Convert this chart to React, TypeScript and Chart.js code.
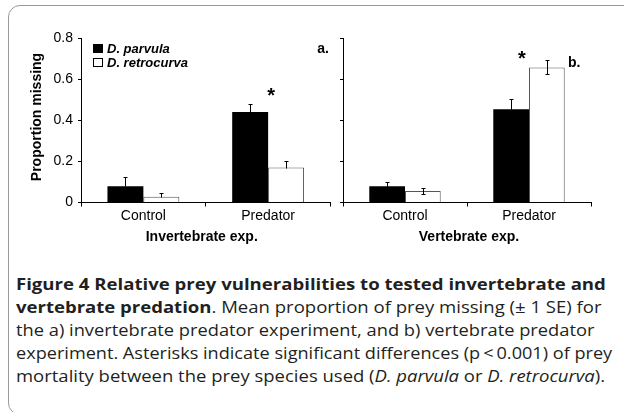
import React, { useEffect, useLayoutEffect, useRef } from 'react';
import { Chart, registerables } from 'chart.js';
Chart.register(...registerables);

// ---------- data ----------
const categories = ['Control', 'Predator'];
const seriesNames = ['D. parvula', 'D. retrocurva'];
const invParvula = [0.079, 0.44];
const invParvulaSE = [0.044, 0.038];
const invRetrocurva = [0.028, 0.17];
const invRetrocurvaSE = [0.017, 0.03];
const vertParvula = [0.079, 0.453];
const vertParvulaSE = [0.021, 0.052];
const vertRetrocurva = [0.056, 0.657];
const vertRetrocurvaSE = [0.016, 0.034];
const yTickValues = [0, 0.2, 0.4, 0.6, 0.8];
const yTickLabels = ['0', '0.2', '0.4', '0.6', '0.8'];
const panelTitles = ['Invertebrate exp.', 'Vertebrate exp.'];
const panelLetters = ['a.', 'b.'];
const yTitle = 'Proportion missing';
const asteriskCategory = [1, 1];
const asteriskValue = [0.542, 0.722];

const captionLines = [
  [{ t: 'Figure 4 Relative prey vulnerabilities to tested invertebrate and', b: true }],
  [{ t: 'vertebrate predation', b: true }, { t: '. Mean proportion of prey missing (\u00b1 1 SE) for' }],
  [{ t: 'the a) invertebrate predator experiment, and b) vertebrate predator' }],
  [{ t: 'experiment. Asterisks indicate significant differences (p\u2009<\u20090.001) of prey' }],
  [
    { t: 'mortality between the prey species used (' },
    { t: 'D. parvula', i: true },
    { t: ' or ' },
    { t: 'D. retrocurva', i: true },
    { t: ').' },
  ],
];
const captionWidths = [590, 586, 579, 596, 589];

const FONT = "'Liberation Sans', Arial, sans-serif";

const decorPlugin = {
  id: 'panelDecor',
  afterDatasetsDraw(chart: any, _args: any, opts: any) {
    const ctx = chart.ctx;
    const ys = chart.scales.y;
    ctx.save();
    ctx.strokeStyle = '#000';
    ctx.lineWidth = 1;
    (opts.errors || []).forEach((errs: number[], di: number) => {
      const meta = chart.getDatasetMeta(di);
      meta.data.forEach((bar: any, j: number) => {
        const v = chart.data.datasets[di].data[j];
        const e = errs[j];
        const x = Math.round(bar.x) + 0.5;
        const yTop = Math.round(ys.getPixelForValue(v + e)) + 0.5;
        const yBot = Math.round(ys.getPixelForValue(opts.both ? v - e : v)) + 0.5;
        ctx.beginPath();
        ctx.moveTo(x, yTop);
        ctx.lineTo(x, yBot);
        ctx.moveTo(x - 2, yTop);
        ctx.lineTo(x + 2, yTop);
        if (opts.both) {
          ctx.moveTo(x - 2, yBot);
          ctx.lineTo(x + 2, yBot);
        }
        ctx.stroke();
      });
    });
    ctx.restore();
  },
  afterDraw(chart: any, _args: any, opts: any) {
    const ctx = chart.ctx;
    const ca = chart.chartArea;
    const xs = chart.scales.x;
    const ys = chart.scales.y;
    ctx.save();
    ctx.fillStyle = '#000';
    // x title
    ctx.font = `bold 14px ${FONT}`;
    ctx.textAlign = 'center';
    ctx.textBaseline = 'alphabetic';
    ctx.fillText(opts.title, (ca.left + ca.right) / 2 + opts.titleDx, ca.bottom + 38);
    // panel letter
    ctx.textAlign = opts.letterAlign;
    ctx.textBaseline = 'middle';
    ctx.fillText(opts.letter, ca.left + opts.letterX, ca.top + opts.letterY);
    // asterisk
    ctx.font = `bold 20px ${FONT}`;
    ctx.textAlign = 'center';
    ctx.textBaseline = 'alphabetic';
    const ax = xs.getPixelForValue(opts.astCat) + opts.astDx;
    const ay = ys.getPixelForValue(opts.astVal);
    ctx.fillText('*', ax, ay + 0.555 * 20);
    // y title
    if (opts.yTitle) {
      ctx.save();
      ctx.translate(37, 117);
      ctx.rotate(-Math.PI / 2);
      ctx.font = `bold 14px ${FONT}`;
      ctx.textAlign = 'center';
      ctx.textBaseline = 'middle';
      ctx.fillText(opts.yTitle, 0, 0);
      ctx.restore();
    }
    // legend
    if (opts.legend) {
      chart.data.datasets.forEach((ds: any, i: number) => {
        const lx = ca.left + 12;
        const ly = ca.top + 6 + i * 14;
        ctx.fillStyle = ds.backgroundColor;
        ctx.fillRect(lx, ly, 10, 9);
        ctx.strokeStyle = '#000';
        ctx.lineWidth = 1;
        ctx.strokeRect(lx + 0.5, ly + 0.5, 9, 8);
        ctx.fillStyle = '#000';
        ctx.font = `italic bold 13px ${FONT}`;
        ctx.textAlign = 'left';
        ctx.textBaseline = 'middle';
        ctx.fillText(ds.label, lx + 14, ly + 5);
      });
    }
    ctx.restore();
  },
};

function makeChart(canvas: HTMLCanvasElement, p: any) {
  return new Chart(canvas, {
    type: 'bar',
    data: {
      labels: categories,
      datasets: [
        {
          label: seriesNames[0],
          data: p.a,
          backgroundColor: '#000',
          borderColor: '#000',
          borderWidth: 0,
          categoryPercentage: 0.576,
          barPercentage: 1,
        },
        {
          label: seriesNames[1],
          data: p.b,
          backgroundColor: '#fff',
          borderColor: '#555',
          borderWidth: 1,
          borderSkipped: 'bottom',
          categoryPercentage: 0.576,
          barPercentage: 1,
        },
      ],
    },
    options: {
      animation: false,
      responsive: false,
      maintainAspectRatio: false,
      events: [],
      layout: { padding: { top: 38, right: p.padRight, left: 0, bottom: 0 } },
      plugins: {
        legend: { display: false },
        tooltip: { enabled: false },
        panelDecor: p.decor,
      } as any,
      scales: {
        x: {
          type: 'category',
          offset: true,
          grid: {
            display: true,
            offset: true,
            drawOnChartArea: false,
            drawTicks: true,
            tickLength: 4,
            color: '#000',
            lineWidth: 1,
          },
          border: { display: true, color: '#000', width: 1 },
          ticks: { color: '#000', font: { family: FONT, size: 14 }, padding: 1, maxRotation: 0, autoSkip: false },
          afterFit: (s: any) => {
            s.height = 47.5;
          },
        },
        y: {
          min: 0,
          max: 0.8,
          afterBuildTicks: (s: any) => {
            s.ticks = yTickValues.map((v) => ({ value: v }));
          },
          ticks: {
            display: p.showY,
            color: '#000',
            font: { family: FONT, size: 14 },
            padding: 5,
            callback: (_v: any, i: number) => yTickLabels[i],
          },
          grid: { drawOnChartArea: false, drawTicks: true, tickLength: 3, color: '#000' },
          border: { display: true, color: '#000', width: 1 },
          afterFit: (s: any) => {
            s.width = p.yWidth;
          },
        },
      },
    } as any,
    plugins: [decorPlugin as any],
  });
}

export default function App() {
  const c1 = useRef<HTMLCanvasElement>(null);
  const c2 = useRef<HTMLCanvasElement>(null);
  const lineRefs = useRef<(HTMLSpanElement | null)[]>([]);

  useEffect(() => {
    const ch1 = makeChart(c1.current!, {
      a: invParvula,
      b: invRetrocurva,
      padRight: 9.5,
      yWidth: 81,
      showY: true,
      decor: {
        errors: [invParvulaSE, invRetrocurvaSE],
        both: false,
        title: panelTitles[0],
        titleDx: -4,
        letter: panelLetters[0],
        letterAlign: 'right',
        letterX: 248,
        letterY: 11,
        astCat: asteriskCategory[0],
        astVal: asteriskValue[0],
        astDx: 3,
        yTitle: yTitle,
        legend: true,
      },
    });
    const ch2 = makeChart(c2.current!, {
      a: vertParvula,
      b: vertRetrocurva,
      padRight: 33,
      yWidth: 8,
      showY: false,
      decor: {
        errors: [vertParvulaSE, vertRetrocurvaSE],
        both: true,
        title: panelTitles[1],
        titleDx: 2,
        letter: panelLetters[1],
        letterAlign: 'left',
        letterX: 225,
        letterY: 25,
        astCat: asteriskCategory[1],
        astVal: asteriskValue[1],
        astDx: -7,
        yTitle: null,
        legend: false,
      },
    });
    return () => {
      ch1.destroy();
      ch2.destroy();
    };
  }, []);

  useLayoutEffect(() => {
    lineRefs.current.forEach((el, i) => {
      if (!el) return;
      const w = el.offsetWidth;
      if (w > 0) el.style.transform = `scaleX(${captionWidths[i] / w})`;
    });
  }, []);

  return (
    <div
      style={{
        position: 'absolute',
        left: 0,
        top: 0,
        width: 624,
        height: 412,
        overflow: 'hidden',
        background: '#fff',
      }}
    >
      <div
        style={{
          position: 'absolute',
          left: 8,
          top: 5,
          width: 700,
          height: 410,
          boxSizing: 'border-box',
          border: '1.5px solid #999',
          borderRadius: 12,
        }}
      />
      <canvas ref={c1} width={340} height={250} style={{ position: 'absolute', left: 0, top: 0, width: 340, height: 250 }} />
      <canvas ref={c2} width={289} height={250} style={{ position: 'absolute', left: 335, top: 0, width: 289, height: 250 }} />
      <div
        style={{
          position: 'absolute',
          left: 16,
          top: 273,
          fontFamily: "'Open Sans', 'Noto Sans', sans-serif",
          fontSize: 15.5,
          lineHeight: '23.1px',
          color: '#231f20',
        }}
      >
        {captionLines.map((segs, i) => (
          <div key={i} style={{ whiteSpace: 'nowrap', height: 23.1 }}>
            <span
              ref={(el) => {
                lineRefs.current[i] = el;
              }}
              style={{ display: 'inline-block', transformOrigin: '0 0' }}
            >
              {segs.map((s: any, k: number) => (
                <span key={k} style={{ fontWeight: s.b ? 700 : 400, fontStyle: s.i ? 'italic' : 'normal' }}>
                  {s.t}
                </span>
              ))}
            </span>
          </div>
        ))}
      </div>
    </div>
  );
}
